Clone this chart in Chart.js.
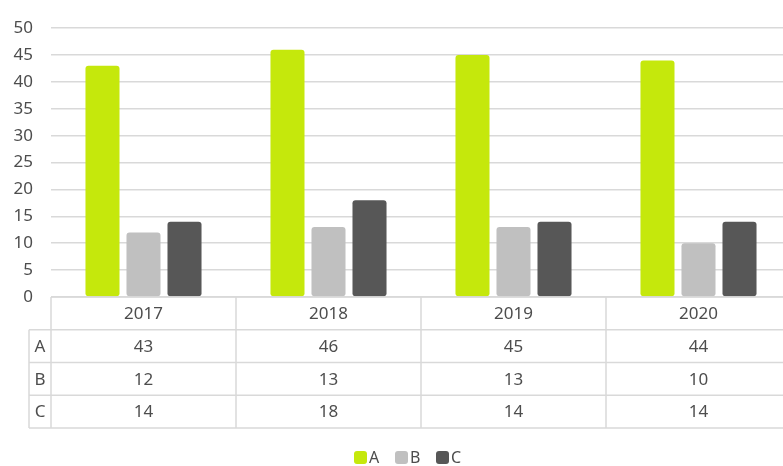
<!DOCTYPE html>
<html>
<head>
<meta charset="utf-8">
<script src="https://cdn.jsdelivr.net/npm/chart.js@4"></script>
<style>
  html, body { margin: 0; padding: 0; overflow: hidden; background: #fff; }
  #wrap { width: 791px; height: 466px; }
</style>
</head>
<body>
<div id="wrap"><canvas id="barCanvas" width="791" height="466"></canvas></div>
<script>
var years = ['2017', '2018', '2019', '2020'];
var seriesNames = ['A', 'B', 'C'];
var seriesA = [43, 46, 45, 44];
var seriesB = [12, 13, 13, 10];
var seriesC = [14, 18, 14, 14];
var seriesColors = ['#c5e80c', '#c0c0c0', '#575757'];

var textColor = '#4d4d4d';
var lineColor = '#d9d9d9';
var fontFamily = '"Noto Sans", "DejaVu Sans", sans-serif';

// data table under the plot + legend, drawn from the same series arrays
var tablePlugin = {
  id: 'dataTable',
  afterDraw: function (chart) {
    var ctx = chart.ctx;
    var area = chart.chartArea;
    var xs = chart.scales.x;
    var colW = (area.right - area.left) / years.length;
    var rowH = 32.75;
    var labelLeft = 29;
    var rows = [seriesA, seriesB, seriesC];
    var top = area.bottom;

    ctx.save();
    ctx.strokeStyle = lineColor;
    ctx.lineWidth = 1.5;
    ctx.beginPath();
    // horizontal rules
    ctx.moveTo(area.left, top);
    ctx.lineTo(area.right, top);
    for (var r = 1; r <= rows.length + 1; r++) {
      var y = top + r * rowH;
      ctx.moveTo(labelLeft, y);
      ctx.lineTo(area.right, y);
    }
    // vertical rules
    for (var c = 0; c <= years.length; c++) {
      var x = area.left + c * colW;
      ctx.moveTo(x, top);
      ctx.lineTo(x, top + (rows.length + 1) * rowH);
    }
    ctx.moveTo(labelLeft, top + rowH);
    ctx.lineTo(labelLeft, top + (rows.length + 1) * rowH);
    ctx.stroke();

    ctx.fillStyle = textColor;
    ctx.font = '17px ' + fontFamily;
    ctx.textAlign = 'center';
    ctx.textBaseline = 'middle';
    years.forEach(function (yr, i) {
      ctx.fillText(yr, xs.getPixelForValue(i), top + rowH / 2 + 1);
    });
    rows.forEach(function (vals, r) {
      var cy = top + (r + 1.5) * rowH + 1;
      ctx.fillText(seriesNames[r], (labelLeft + area.left) / 2, cy);
      vals.forEach(function (v, i) {
        ctx.fillText(String(v), xs.getPixelForValue(i), cy);
      });
    });

    // legend
    var lx = 354;
    var ly = 457;
    ctx.textAlign = 'left';
    ctx.font = '16px ' + fontFamily;
    seriesNames.forEach(function (name, i) {
      ctx.fillStyle = seriesColors[i];
      ctx.beginPath();
      ctx.roundRect(lx, ly - 6, 13, 13, 3);
      ctx.fill();
      ctx.fillStyle = textColor;
      ctx.fillText(name, lx + 15, ly + 1);
      lx += 41;
    });
    ctx.restore();
  }
};

function barChartMethod() {
  var datasets = [seriesA, seriesB, seriesC].map(function (vals, i) {
    return {
      label: seriesNames[i],
      data: vals,
      backgroundColor: seriesColors[i],
      borderRadius: 3,
      borderSkipped: false,
      categoryPercentage: 0.665,
      barPercentage: 0.83
    };
  });

  this.barChart = new Chart(document.getElementById('barCanvas').getContext('2d'), {
    type: 'bar',
    data: { labels: years, datasets: datasets },
    options: {
      responsive: false,
      animation: false,
      layout: { padding: { top: 21, bottom: 169, left: 0, right: 0 } },
      plugins: {
        legend: { display: false },
        tooltip: { enabled: false }
      },
      scales: {
        x: { display: false },
        y: {
          min: 0,
          max: 50,
          border: { display: false },
          grid: { color: lineColor, lineWidth: 1.5, drawTicks: false },
          ticks: {
            stepSize: 5,
            padding: 18,
            color: textColor,
            font: { family: fontFamily, size: 17 }
          },
          afterFit: function (scale) { scale.width = 51; }
        }
      }
    },
    plugins: [tablePlugin]
  });
}

document.addEventListener('DOMContentLoaded', function () {
  barChartMethod();
});
</script>
</body>
</html>
